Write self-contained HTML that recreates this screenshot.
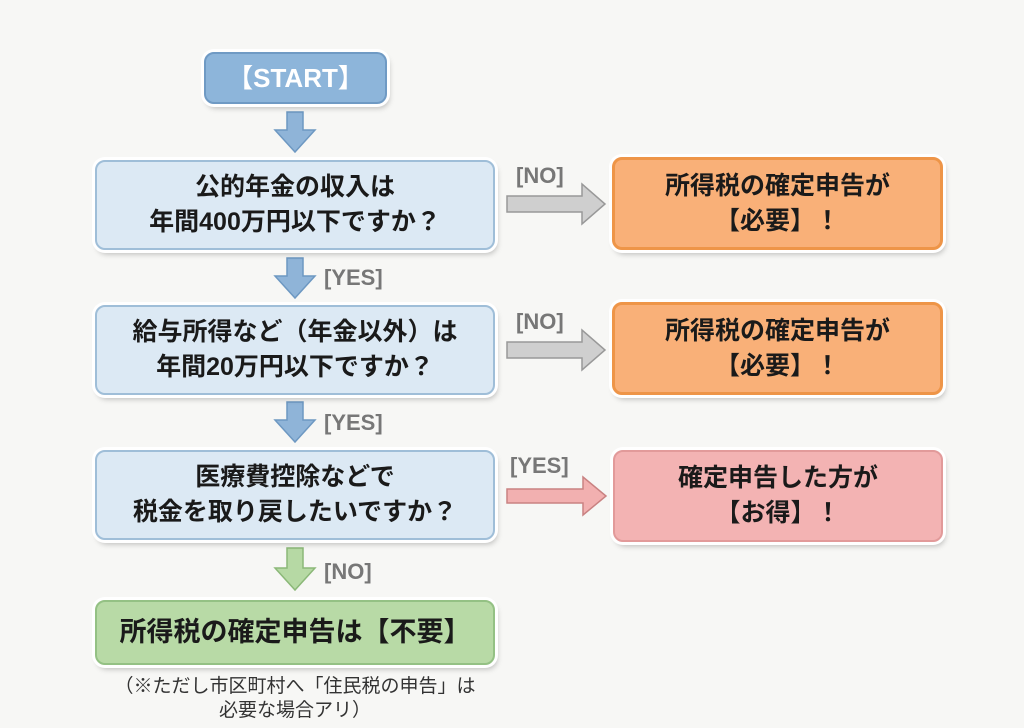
<!DOCTYPE html>
<html><head><meta charset="utf-8"><style>
body{margin:0;width:1024px;height:728px;background:#f7f7f5;position:relative;overflow:hidden;font-family:"Liberation Sans","Noto Sans CJK JP",sans-serif;}
.b{position:absolute;box-sizing:border-box;border-radius:10px;display:flex;align-items:center;justify-content:center;text-align:center;font-weight:bold;color:#1a1a1a;font-size:25px;line-height:35px;box-shadow:0 0 0 3px #fff,2px 4px 6px rgba(0,0,0,.25);}
.q{background:#dce9f4;border:2px solid #9fbed8;}
.o{background:#f9b078;border:3px solid #ee9548;}
.p{background:#f3b3b3;border:2px solid #e29a9a;}
.g{background:#b8daa6;border:2px solid #94c184;}
.l{position:absolute;font-size:22px;font-weight:bold;color:#777;}
svg{position:absolute;left:0;top:0}
</style></head><body>
<svg width="1024" height="728">
<g fill="#8fb4d8" stroke="#6d98c2" stroke-width="1.5">
<polygon points="287,112 303,112 303,130 315,130 295,152 275,130 287,130"/>
<polygon points="287,258 303,258 303,276 315,276 295,298 275,276 287,276"/>
<polygon points="287,402 303,402 303,420 315,420 295,442 275,420 287,420"/>
</g>
<polygon fill="#b6d9a4" stroke="#8bb878" stroke-width="1.5" points="287,548 303,548 303,568 315,568 295,590 275,568 287,568"/>
<g fill="#cfcfcf" stroke="#999" stroke-width="1.5">
<polygon points="507,196 582,196 582,184 605,204 582,224 582,212 507,212"/>
<polygon points="507,342 582,342 582,330 605,350 582,370 582,358 507,358"/>
</g>
<polygon fill="#f2b0b0" stroke="#c98282" stroke-width="1.5" points="507,489 583,489 583,477 606,496 583,515 583,503 507,503"/>
</svg>
<div class="b" style="left:204px;top:52px;width:183px;height:52px;background:#8db5da;border:2px solid #6f9ac4;color:#fff;font-size:26px;">【START】</div>
<div class="b q" style="left:95px;top:160px;width:400px;height:90px;">公的年金の収入は<br>年間400万円以下ですか？</div>
<div class="b o" style="left:612px;top:157px;width:331px;height:93px;">所得税の確定申告が<br>【必要】！</div>
<div class="l" style="left:516px;top:163px;">[NO]</div>
<div class="l" style="left:324px;top:265px;">[YES]</div>
<div class="b q" style="left:95px;top:305px;width:400px;height:90px;">給与所得など（年金以外）は<br>年間20万円以下ですか？</div>
<div class="b o" style="left:612px;top:302px;width:331px;height:93px;">所得税の確定申告が<br>【必要】！</div>
<div class="l" style="left:516px;top:309px;">[NO]</div>
<div class="l" style="left:324px;top:410px;">[YES]</div>
<div class="b q" style="left:95px;top:450px;width:400px;height:90px;">医療費控除などで<br>税金を取り戻したいですか？</div>
<div class="b p" style="left:613px;top:450px;width:330px;height:92px;">確定申告した方が<br>【お得】！</div>
<div class="l" style="left:510px;top:453px;">[YES]</div>
<div class="l" style="left:324px;top:559px;">[NO]</div>
<div class="b g" style="left:95px;top:600px;width:400px;height:65px;font-size:27px;">所得税の確定申告は【不要】</div>
<div style="position:absolute;left:75px;width:440px;top:675px;text-align:center;font-size:19px;line-height:24px;color:#333;">（※ただし市区町村へ「住民税の申告」は<br>必要な場合アリ）</div>
</body></html>
